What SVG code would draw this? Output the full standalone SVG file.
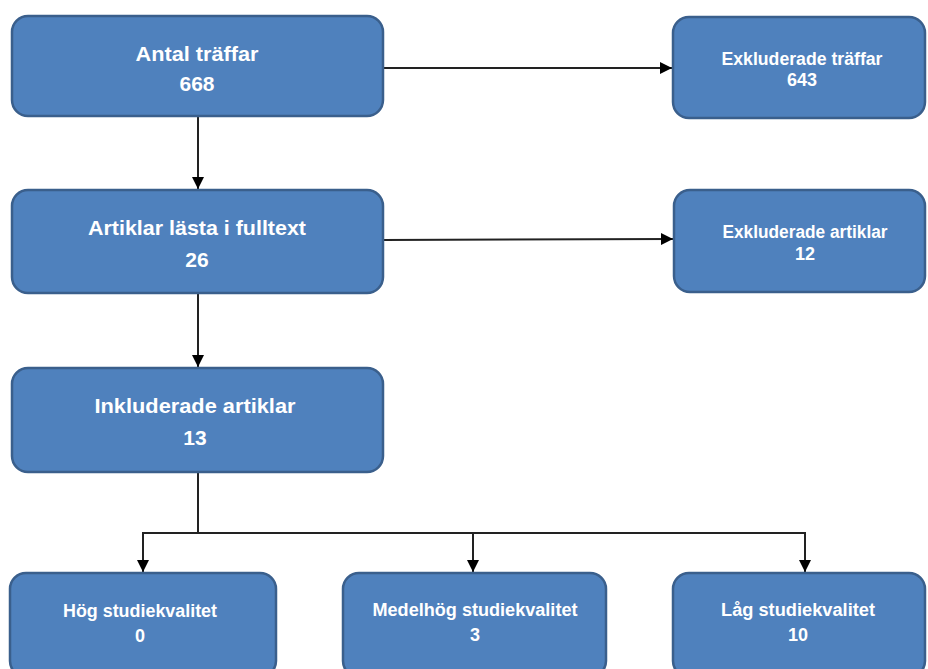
<svg xmlns="http://www.w3.org/2000/svg" width="928" height="669" viewBox="0 0 928 669">
  <style>
    .box { fill: #4f81bd; stroke: #3a5f8c; stroke-width: 2.5; }
    .t { fill: #ffffff; font-family: "Liberation Sans", Arial, sans-serif; font-weight: bold; text-anchor: middle; }
    .big { font-size: 21px; }
    .small { font-size: 18px; }
    .conn { stroke: #222222; stroke-width: 2; fill: none; }
  </style>
  <defs>
    <marker id="arrow" viewBox="0 0 12 12" refX="12" refY="6" markerWidth="12" markerHeight="12" markerUnits="userSpaceOnUse" orient="auto">
      <path d="M0,0 L12,6 L0,12 Z" fill="#000000"/>
    </marker>
  </defs>
  <rect width="928" height="669" fill="#ffffff"/>

  <g id="connectors">
    <line class="conn" x1="383" y1="68" x2="672" y2="68" marker-end="url(#arrow)"/>
    <line class="conn" x1="198" y1="116" x2="198" y2="189" marker-end="url(#arrow)"/>
    <line class="conn" x1="383" y1="240" x2="673" y2="239" marker-end="url(#arrow)"/>
    <line class="conn" x1="198" y1="294" x2="198" y2="367" marker-end="url(#arrow)"/>
    <polyline class="conn" points="198,472 198,533"/>
    <polyline class="conn" points="143,533 805,533"/>
    <line class="conn" x1="143" y1="532" x2="143" y2="572" marker-end="url(#arrow)"/>
    <line class="conn" x1="473" y1="533" x2="473" y2="572" marker-end="url(#arrow)"/>
    <line class="conn" x1="805" y1="532" x2="805" y2="572" marker-end="url(#arrow)"/>
  </g>

  <g id="antal">
    <rect class="box" x="12" y="16" width="371" height="100" rx="16"/>
    <text class="t big" x="197" y="61" textLength="123" lengthAdjust="spacingAndGlyphs">Antal träffar</text>
    <text class="t big" x="197" y="91">668</text>
  </g>

  <g id="exkl-traffar">
    <rect class="box" x="673" y="17" width="252" height="101" rx="16"/>
    <text class="t small" x="802" y="65" textLength="161" lengthAdjust="spacingAndGlyphs">Exkluderade träffar</text>
    <text class="t small" x="802" y="86">643</text>
  </g>

  <g id="artiklar">
    <rect class="box" x="12" y="190" width="371" height="103" rx="16"/>
    <text class="t big" x="197" y="235" textLength="218" lengthAdjust="spacingAndGlyphs">Artiklar lästa i fulltext</text>
    <text class="t big" x="197" y="267">26</text>
  </g>

  <g id="exkl-artiklar">
    <rect class="box" x="674" y="190" width="251" height="102" rx="16"/>
    <text class="t small" x="805" y="238" textLength="165" lengthAdjust="spacingAndGlyphs">Exkluderade artiklar</text>
    <text class="t small" x="805" y="260">12</text>
  </g>

  <g id="inkluderade">
    <rect class="box" x="12" y="368" width="371" height="104" rx="16"/>
    <text class="t big" x="195" y="413" textLength="201" lengthAdjust="spacingAndGlyphs">Inkluderade artiklar</text>
    <text class="t big" x="195" y="445">13</text>
  </g>

  <g id="hog">
    <rect class="box" x="10" y="573" width="266" height="104" rx="16"/>
    <text class="t small" x="140" y="617" textLength="154" lengthAdjust="spacingAndGlyphs">Hög studiekvalitet</text>
    <text class="t small" x="140" y="642">0</text>
  </g>

  <g id="medelhog">
    <rect class="box" x="343" y="573" width="263" height="104" rx="16"/>
    <text class="t small" x="475" y="616" textLength="205" lengthAdjust="spacingAndGlyphs">Medelhög studiekvalitet</text>
    <text class="t small" x="475" y="641">3</text>
  </g>

  <g id="lag">
    <rect class="box" x="673" y="573" width="252" height="104" rx="16"/>
    <text class="t small" x="798" y="616" textLength="154" lengthAdjust="spacingAndGlyphs">Låg studiekvalitet</text>
    <text class="t small" x="798" y="641">10</text>
  </g>
</svg>
